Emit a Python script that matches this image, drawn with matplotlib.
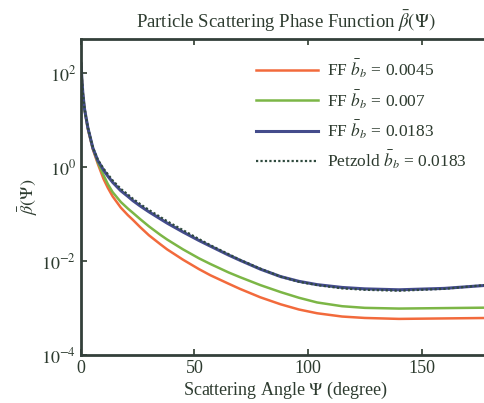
import matplotlib
matplotlib.use("Agg")
import matplotlib.pyplot as plt
import numpy as np

# Scattering angle (degree) and log10 of phase function
angle_ff = [0.1, 0.5, 0.9, 1.6, 3.1, 5.3, 7.5, 10, 11.9, 14, 17.6, 20.7, 22.9, 26, 30, 35, 38, 45,
            52, 57, 65, 70, 79, 88, 96, 104, 115, 125, 140, 160, 180]
log_b0045 = [2.2, 1.84, 1.56, 1.24, 0.82, 0.38, 0.07, -0.25, -0.44, -0.62, -0.86, -1.02, -1.12, -1.27,
             -1.45, -1.64, -1.75, -1.97, -2.17, -2.30, -2.48, -2.59, -2.77, -2.92, -3.03, -3.11,
             -3.18, -3.21, -3.23, -3.22, -3.21]
log_b007 = [2.2, 1.84, 1.56, 1.24, 0.83, 0.40, 0.10, -0.17, -0.36, -0.53, -0.74, -0.88, -0.97, -1.10,
            -1.26, -1.44, -1.54, -1.75, -1.94, -2.06, -2.24, -2.34, -2.51, -2.66, -2.78, -2.88,
            -2.96, -2.995, -3.01, -3.00, -2.99]
log_b0183 = [2.2, 1.85, 1.57, 1.25, 0.84, 0.41, 0.14, -0.06, -0.19, -0.32, -0.50, -0.62, -0.71, -0.82,
             -0.95, -1.10, -1.19, -1.38, -1.56, -1.68, -1.87, -1.98, -2.17, -2.33, -2.43, -2.50,
             -2.56, -2.59, -2.61, -2.58, -2.51]
log_petzold = [2.25, 1.87, 1.58, 1.26, 0.85, 0.42, 0.16, -0.03, -0.15, -0.28, -0.46, -0.58, -0.67, -0.78,
               -0.91, -1.06, -1.15, -1.34, -1.53, -1.66, -1.85, -1.97, -2.16, -2.33, -2.44, -2.51,
               -2.58, -2.61, -2.63, -2.59, -2.50]

labels = [r"FF $\bar{b}_b$ = 0.0045", r"FF $\bar{b}_b$ = 0.007",
          r"FF $\bar{b}_b$ = 0.0183", r"Petzold $\bar{b}_b$ = 0.0183"]
xticks = [0, 50, 100, 150]

plt.rcParams['font.family'] = ['Liberation Serif', 'DejaVu Serif']
plt.rcParams['mathtext.fontset'] = 'stix'
txt = '#2d3b2f'

fig = plt.figure(figsize=(4.84, 4.03), dpi=100)
ax = fig.add_axes([0.167, 0.119, 0.845, 0.784])

ax.plot(angle_ff, 10 ** np.array(log_b0045), color='#f26a3c', lw=1.8, label=labels[0])
ax.plot(angle_ff, 10 ** np.array(log_b007), color='#7cb646', lw=1.8, label=labels[1])
ax.plot(angle_ff, 10 ** np.array(log_b0183), color='#444c8c', lw=2.2, label=labels[2])
ax.plot(angle_ff, 10 ** np.array(log_petzold), color='#2f4a3e', lw=1.6, ls=(0, (1, 1)), label=labels[3])

ax.set_yscale('log')
ax.set_xlim(0, 180)
ax.set_ylim(1e-4, 10 ** 2.73)
ax.set_xticks(xticks)
ax.set_xticklabels([str(v) for v in xticks])
ax.set_yticks([1e-4, 1e-2, 1e0, 1e2])
ax.set_yticklabels([r"$10^{-4}$", r"$10^{-2}$", r"$10^{0}$", r"$10^{2}$"])
ax.minorticks_off()
ax.tick_params(direction='in', top=True, right=True, length=4, width=1.2,
               labelsize=13, colors=txt)
for s in ax.spines.values():
    s.set_linewidth(2)
    s.set_color('#33403a')

ax.set_title(r"Particle Scattering Phase Function $\bar{\beta}(\Psi)$", fontsize=13.5, color=txt, pad=8)
ax.set_xlabel(r"Scattering Angle $\Psi$ (degree)", fontsize=13, color=txt, labelpad=2)
ax.set_ylabel(r"$\bar{\beta}(\Psi)$", fontsize=13, color=txt)
ax.yaxis.set_label_coords(-0.1, 0.5)

leg = ax.legend(loc='upper left', bbox_to_anchor=(0.39, 0.99), frameon=False,
                fontsize=12.5, handlelength=3.6, handletextpad=0.5, labelspacing=0.45)
for t in leg.get_texts():
    t.set_color(txt)

fig.savefig('out.png', dpi=100)
